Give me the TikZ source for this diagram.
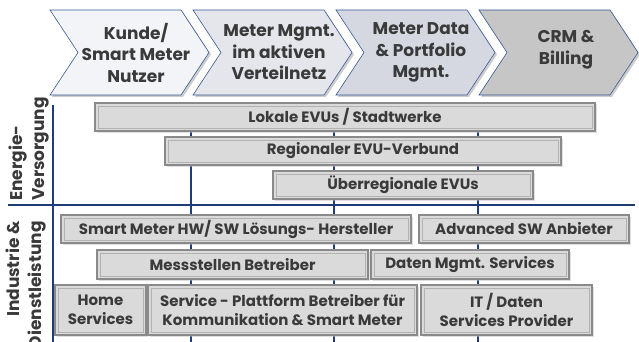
\documentclass[tikz,border=0pt]{standalone}
\usepackage{fontspec}
\setmainfont{Poppins}
\usetikzlibrary{shadows}
\definecolor{gridblue}{HTML}{1F3C78}
\definecolor{txtgray}{HTML}{3A3A3A}
\definecolor{barfill}{HTML}{DADADA}
\definecolor{barline}{HTML}{8A8A8A}
\definecolor{chevline}{HTML}{3A5A95}
\definecolor{chevA}{HTML}{F3F4F7}
\definecolor{chevB}{HTML}{E4E6EC}
\definecolor{chevC}{HTML}{D5D8E1}
\definecolor{chevD}{HTML}{C6C6C6}

\begin{document}
\begin{tikzpicture}[x=1pt, y=-1pt,
    chev/.style={draw=chevline, line width=0.6pt, drop shadow={shadow xshift=2pt, shadow yshift=-2pt, fill=gray!80}},
    chevtext/.style={align=center, text=txtgray, font=\fontsize{17}{21.5}\selectfont\bfseries},
    sidetext/.style={rotate=90, text=txtgray, font=\fontsize{17}{22}\selectfont\bfseries, inner sep=0pt},
    grid/.style={draw=gridblue, line width=1.6pt},
    bar/.style={draw=barline, line width=1.1pt, fill=barfill, inner sep=0pt, align=center, text=txtgray,
        font=\fontsize{15}{19}\selectfont\bfseries,
        drop shadow={shadow xshift=1.5pt, shadow yshift=-1.5pt, fill=gray!50},
        path picture={\draw[gray!60, line width=0.6pt] ([shift={(3pt,-3pt)}]path picture bounding box.north west) rectangle ([shift={(-3pt,3pt)}]path picture bounding box.south east);}}]
\useasboundingbox (0,0) rectangle (639,342);

% value chain
\foreach \s/\col in {50/chevA, 193/chevB, 336/chevC, 479/chevD}
  \draw[chev, fill=\col] (\s,10) -- (\s+131,10) -- (\s+159,52.5) -- (\s+131,95) -- (\s,95) -- (\s+28,52.5) -- cycle;
\node[chevtext] (kunde) at (136,52.5) {Kunde/\\Smart Meter\\Nutzer};
\node[chevtext] (netz) at (279,52.5) {Meter Mgmt.\\im aktiven\\Verteilnetz};
\node[chevtext] (data) at (421,52.5) {Meter Data\\\& Portfolio\\Mgmt.};
\node[chevtext] (crm) at (566,50) {CRM \&\\Billing};

% grid
\draw[grid] (53,105) -- (53,342);
\draw[grid] (191,105) -- (191,342);
\draw[grid] (334,105) -- (334,342);
\draw[grid] (478,105) -- (478,342);
\draw[grid] (8,205) -- (635,205);

\node[sidetext, align=left, anchor=west] (energie) at (29,201) {Energie-\\Versorgung};
\node[sidetext, align=right, anchor=east] (industrie) at (26,221) {Industrie \&\\Dienstleistung};

% Energieversorgung
\node[bar, minimum width=500pt, minimum height=28pt] (lokale) at (345,117) {Lokale EVUs / Stadtwerke};
\node[bar, minimum width=396pt, minimum height=28pt] (regional) at (363,151) {Regionaler EVU-Verbund};
\node[bar, minimum width=260pt, minimum height=28pt] (ueber) at (403,185) {Überregionale EVUs};

% Industrie & Dienstleistung
\node[bar, minimum width=350pt, minimum height=28pt] (hersteller) at (236,229) {Smart Meter HW/ SW Lösungs- Hersteller};
\node[bar, minimum width=210pt, minimum height=28pt] (advanced) at (524,229) {Advanced SW Anbieter};
\node[bar, minimum width=271pt, minimum height=29pt] (messstellen) at (232.5,264.5) {Messstellen Betreiber};
\node[bar, minimum width=198pt, minimum height=29pt] (datenmgmt) at (470,264.5) {Daten Mgmt. Services};
\node[bar, minimum width=91pt, minimum height=50pt] (home) at (100.5,310) {Home\\Services};
\node[bar, minimum width=269pt, minimum height=50pt] (plattform) at (282.5,310) {Service - Plattform Betreiber für\\Kommunikation \& Smart Meter};
\node[bar, minimum width=171pt, minimum height=50pt] (itdaten) at (506.5,310) {IT / Daten\\Services Provider};
\end{tikzpicture}
\end{document}
